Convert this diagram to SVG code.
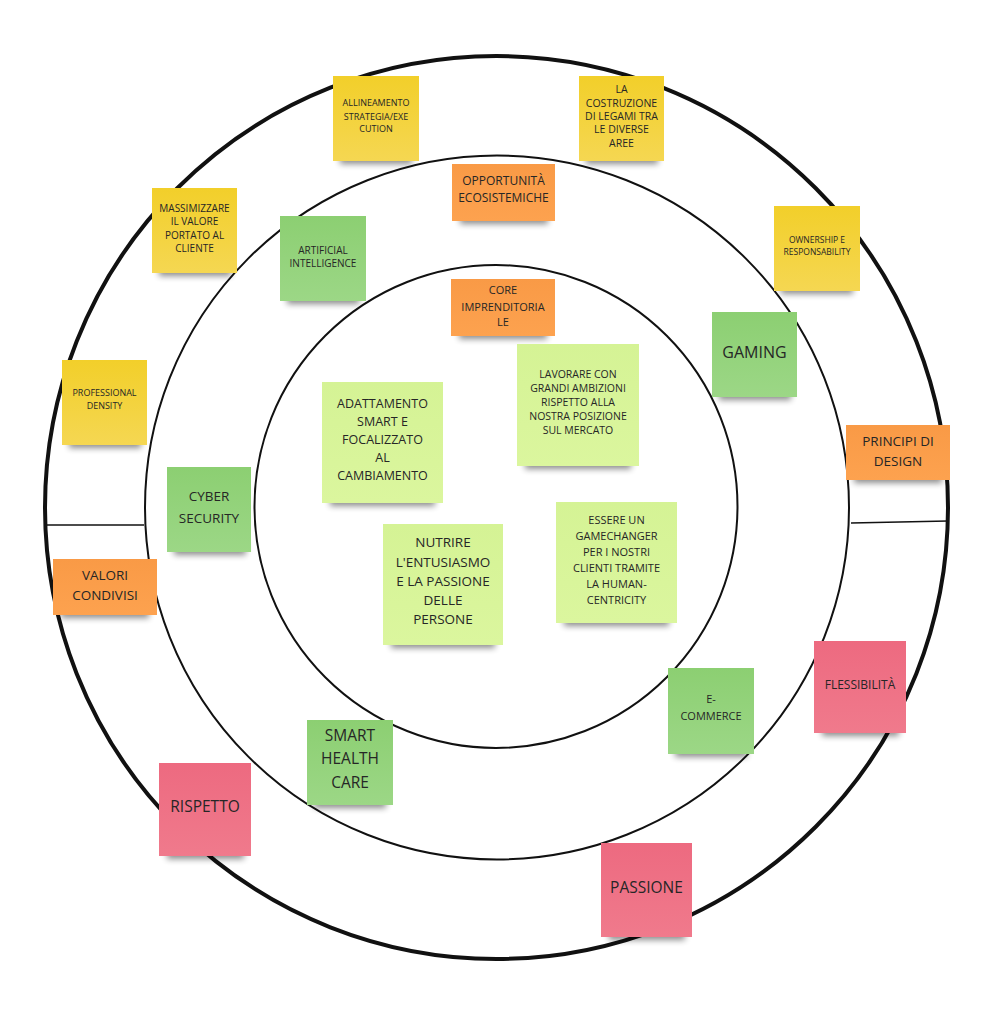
<svg xmlns="http://www.w3.org/2000/svg" width="986" height="1013" viewBox="0 0 986 1013">
<style>
.t{font-family:"Open Sans","Noto Sans",sans-serif;fill:#262626;text-anchor:middle}
.ring{fill:none;stroke:#111}
.sh{fill:#000;opacity:.45;filter:url(#blur)}
</style>
<defs>
<filter id="blur" x="-20%" y="-100%" width="140%" height="300%"><feGaussianBlur stdDeviation="3"/></filter>
<linearGradient id="gy" x1="0" y1="0" x2="0" y2="1"><stop offset="0" stop-color="#f2cf2a"/><stop offset="1" stop-color="#f5d752"/></linearGradient>
<linearGradient id="gg" x1="0" y1="0" x2="0" y2="1"><stop offset="0" stop-color="#8ccf72"/><stop offset="1" stop-color="#9cd786"/></linearGradient>
<linearGradient id="gl" x1="0" y1="0" x2="0" y2="1"><stop offset="0" stop-color="#d5f395"/><stop offset="1" stop-color="#dbf69e"/></linearGradient>
<linearGradient id="go" x1="0" y1="0" x2="0" y2="1"><stop offset="0" stop-color="#f99a46"/><stop offset="1" stop-color="#fda24f"/></linearGradient>
<linearGradient id="gp" x1="0" y1="0" x2="0" y2="1"><stop offset="0" stop-color="#ed6a80"/><stop offset="1" stop-color="#f07a8c"/></linearGradient>
</defs>
<rect width="986" height="1013" fill="#fff"/>
<g id="rings">
<circle class="ring" cx="496.5" cy="507.5" r="451.5" stroke-width="4"/>
<circle class="ring" cx="497" cy="507.5" r="352" stroke-width="2"/>
<circle class="ring" cx="496" cy="506.5" r="241.5" stroke-width="2"/>
<line class="ring" x1="47" y1="525" x2="144" y2="525" stroke-width="1.5"/>
<line class="ring" x1="851" y1="523" x2="948" y2="521" stroke-width="1.5"/>
</g>
<g id="n1"><rect class="sh" x="340" y="150" width="72" height="14"/><rect x="333" y="76" width="86" height="85" fill="url(#gy)"/>
<text class="t" font-size="9"><tspan x="376" y="106">ALLINEAMENTO</tspan><tspan x="376" y="120">STRATEGIA/EXE</tspan><tspan x="376" y="132">CUTION</tspan></text></g>
<g id="n2"><rect class="sh" x="586" y="150" width="72" height="14"/><rect x="579" y="76" width="85" height="85" fill="url(#gy)"/>
<text class="t" font-size="10.5"><tspan x="621.5" y="93">LA</tspan><tspan x="621.5" y="107">COSTRUZIONE</tspan><tspan x="621.5" y="120">DI LEGAMI TRA</tspan><tspan x="621.5" y="133">LE DIVERSE</tspan><tspan x="621.5" y="147">AREE</tspan></text></g>
<g id="n3"><rect class="sh" x="460" y="210" width="88" height="14"/><rect x="452" y="164" width="103" height="57" fill="url(#go)"/>
<text class="t" font-size="12"><tspan x="503.5" y="185">OPPORTUNITÀ</tspan><tspan x="503.5" y="202">ECOSISTEMICHE</tspan></text></g>
<g id="n4"><rect class="sh" x="159" y="262" width="72" height="14"/><rect x="152" y="188" width="85" height="85" fill="url(#gy)"/>
<text class="t" font-size="10"><tspan x="194.5" y="212">MASSIMIZZARE</tspan><tspan x="194.5" y="225">IL VALORE</tspan><tspan x="194.5" y="239">PORTATO AL</tspan><tspan x="194.5" y="252">CLIENTE</tspan></text></g>
<g id="n5"><rect class="sh" x="287" y="290" width="72" height="14"/><rect x="280" y="216" width="86" height="85" fill="url(#gg)"/>
<text class="t" font-size="10"><tspan x="323" y="254">ARTIFICIAL</tspan><tspan x="323" y="267">INTELLIGENCE</tspan></text></g>
<g id="n6"><rect class="sh" x="459" y="325" width="88" height="14"/><rect x="451" y="279" width="104" height="57" fill="url(#go)"/>
<text class="t" font-size="11"><tspan x="503" y="294">CORE</tspan><tspan x="503" y="311">IMPRENDITORIA</tspan><tspan x="503" y="326">LE</tspan></text></g>
<g id="n7"><rect class="sh" x="525" y="454" width="106" height="15"/><rect x="517" y="344" width="122" height="122" fill="url(#gl)"/>
<text class="t" font-size="10.5"><tspan x="578" y="378">LAVORARE CON</tspan><tspan x="578" y="392">GRANDI AMBIZIONI</tspan><tspan x="578" y="406">RISPETTO ALLA</tspan><tspan x="578" y="420">NOSTRA POSIZIONE</tspan><tspan x="578" y="434">SUL MERCATO</tspan></text></g>
<g id="n8"><rect class="sh" x="330" y="491" width="105" height="15"/><rect x="322" y="382" width="121" height="121" fill="url(#gl)"/>
<text class="t" font-size="12.5"><tspan x="382.5" y="408">ADATTAMENTO</tspan><tspan x="382.5" y="426">SMART E</tspan><tspan x="382.5" y="444">FOCALIZZATO</tspan><tspan x="382.5" y="462">AL</tspan><tspan x="382.5" y="480">CAMBIAMENTO</tspan></text></g>
<g id="n9"><rect class="sh" x="391" y="633" width="104" height="15"/><rect x="383" y="524" width="120" height="121" fill="url(#gl)"/>
<text class="t" font-size="13.5"><tspan x="443" y="547">NUTRIRE</tspan><tspan x="443" y="567">L'ENTUSIASMO</tspan><tspan x="443" y="586">E LA PASSIONE</tspan><tspan x="443" y="605">DELLE</tspan><tspan x="443" y="624">PERSONE</tspan></text></g>
<g id="n10"><rect class="sh" x="564" y="611" width="105" height="15"/><rect x="556" y="502" width="121" height="121" fill="url(#gl)"/>
<text class="t" font-size="11"><tspan x="616.5" y="524">ESSERE UN</tspan><tspan x="616.5" y="540">GAMECHANGER</tspan><tspan x="616.5" y="556">PER I NOSTRI</tspan><tspan x="616.5" y="572">CLIENTI TRAMITE</tspan><tspan x="616.5" y="588">LA HUMAN-</tspan><tspan x="616.5" y="604">CENTRICITY</tspan></text></g>
<g id="n11"><rect class="sh" x="69" y="434" width="72" height="14"/><rect x="62" y="360" width="85" height="85" fill="url(#gy)"/>
<text class="t" font-size="9"><tspan x="104.5" y="396">PROFESSIONAL</tspan><tspan x="104.5" y="409">DENSITY</tspan></text></g>
<g id="n12"><rect class="sh" x="174" y="541" width="72" height="14"/><rect x="167" y="467" width="84" height="85" fill="url(#gg)"/>
<text class="t" font-size="13.5"><tspan x="209" y="501">CYBER</tspan><tspan x="209" y="523">SECURITY</tspan></text></g>
<g id="n13"><rect class="sh" x="61" y="604" width="88" height="14"/><rect x="53" y="559" width="104" height="56" fill="url(#go)"/>
<text class="t" font-size="13.5"><tspan x="105" y="580">VALORI</tspan><tspan x="105" y="600">CONDIVISI</tspan></text></g>
<g id="n14"><rect class="sh" x="781" y="280" width="72" height="14"/><rect x="774" y="206" width="86" height="85" fill="url(#gy)"/>
<text class="t" font-size="8.5"><tspan x="817" y="243">OWNERSHIP E</tspan><tspan x="817" y="255">RESPONSABILITY</tspan></text></g>
<g id="n15"><rect class="sh" x="719" y="386" width="72" height="14"/><rect x="712" y="312" width="85" height="85" fill="url(#gg)"/>
<text class="t" font-size="16"><tspan x="754.5" y="358">GAMING</tspan></text></g>
<g id="n16"><rect class="sh" x="854" y="469" width="88" height="14"/><rect x="846" y="425" width="104" height="55" fill="url(#go)"/>
<text class="t" font-size="13.5"><tspan x="898" y="446">PRINCIPI DI</tspan><tspan x="898" y="466">DESIGN</tspan></text></g>
<g id="n17"><rect class="sh" x="675" y="743" width="72" height="14"/><rect x="668" y="668" width="86" height="86" fill="url(#gg)"/>
<text class="t" font-size="11"><tspan x="711" y="703">E-</tspan><tspan x="711" y="720">COMMERCE</tspan></text></g>
<g id="n18"><rect class="sh" x="822" y="721" width="77" height="15"/><rect x="814" y="641" width="92" height="92" fill="url(#gp)"/>
<text class="t" font-size="12"><tspan x="860" y="689">FLESSIBILITÀ</tspan></text></g>
<g id="n19"><rect class="sh" x="314" y="794" width="72" height="14"/><rect x="307" y="720" width="86" height="85" fill="url(#gg)"/>
<text class="t" font-size="15.5"><tspan x="350" y="741">SMART</tspan><tspan x="350" y="764">HEALTH</tspan><tspan x="350" y="788">CARE</tspan></text></g>
<g id="n20"><rect class="sh" x="167" y="844" width="77" height="15"/><rect x="159" y="763" width="92" height="93" fill="url(#gp)"/>
<text class="t" font-size="15.5"><tspan x="205" y="812">RISPETTO</tspan></text></g>
<g id="n21"><rect class="sh" x="609" y="925" width="76" height="15"/><rect x="601" y="843" width="91" height="94" fill="url(#gp)"/>
<text class="t" font-size="15.5"><tspan x="646.5" y="893">PASSIONE</tspan></text></g>
<g id="connectors"/>
</svg>
